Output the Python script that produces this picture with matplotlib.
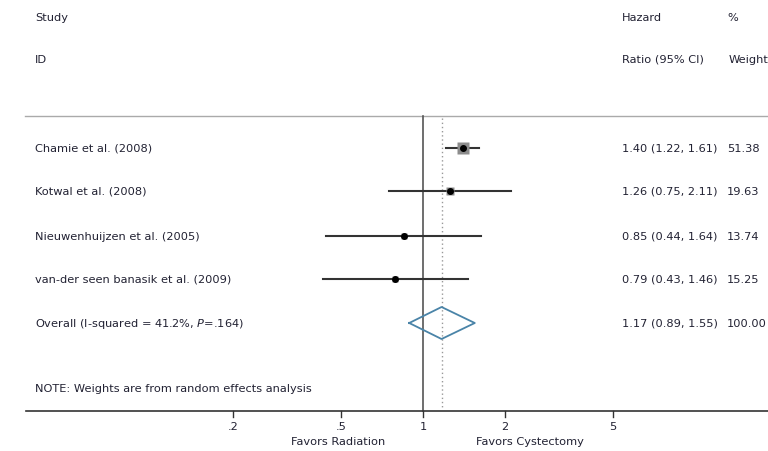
import numpy as np
import matplotlib.pyplot as plt

plt.rcParams['font.family'] = ['DejaVu Sans']

studies = ["Chamie et al. (2008)", "Kotwal et al. (2008)",
           "Nieuwenhuijzen et al. (2005)", "van-der seen banasik et al. (2009)"]
hr = [1.40, 1.26, 0.85, 0.79]
lo = [1.22, 0.75, 0.44, 0.43]
hi = [1.61, 2.11, 1.64, 1.46]
weight = [51.38, 19.63, 13.74, 15.25]

overall_label = "Overall (I-squared = 41.2%, $\\mathit{P}$=.164)"
overall = [1.17, 0.89, 1.55]

ticks = [0.2, 0.5, 1, 2, 5]
tick_labels = [".2", ".5", "1", "2", "5"]

W, H = 768, 452
fig = plt.figure(figsize=(W / 100, H / 100), dpi=100)
ax = fig.add_axes([0, 0, 1, 1])
ax.set_xscale('log')
# 1 sits at x=423 px, 272 px per decade
ax.set_xlim(10 ** (-423 / 272), 10 ** ((W - 423) / 272))
ax.set_ylim(H, 0)
ax.axis('off')

def px(x):
    return 10 ** ((x - 423) / 272)

tc = '#222233'
fs = 8.2
yt = ax.get_yaxis_transform()

# header
ax.text(35 / W, 18, "Study", transform=yt, fontsize=fs, color=tc, va='center')
ax.text(35 / W, 60, "ID", transform=yt, fontsize=fs, color=tc, va='center')
ax.text(622 / W, 18, "Hazard", transform=yt, fontsize=fs, color=tc, va='center')
ax.text(622 / W, 60, "Ratio (95% CI)", transform=yt, fontsize=fs, color=tc, va='center')
ax.text(727 / W, 18, "%", transform=yt, fontsize=fs, color=tc, va='center')
ax.text(729 / W, 60, "Weight", transform=yt, fontsize=fs, color=tc, va='center')
ax.plot([25 / W, 1], [117, 117], transform=yt, color='#aaaaaa', lw=1)

# null line and pooled estimate line
ax.plot([1, 1], [117, 412], color='#555555', lw=1.2)
ax.plot([overall[0]] * 2, [119, 410], color='#999999', lw=1, ls=(0, (1, 2)))

rows = [149, 192, 237, 280]
for i in range(len(studies)):
    y = rows[i]
    ax.plot([lo[i], hi[i]], [y, y], color='#333333', lw=1.5, zorder=3)
    side = 12 * np.sqrt(weight[i] / weight[0])
    ax.plot(hr[i], y, marker='s', ms=side * 0.72, color='#8c8c8c', mec='none', zorder=4)
    ax.plot(hr[i], y, marker='o', ms=4, color='black', zorder=5)
    ax.text(35 / W, y, studies[i], transform=yt, fontsize=fs, color=tc, va='center')
    ax.text(622 / W, y, "%.2f (%.2f, %.2f)" % (hr[i], lo[i], hi[i]),
            transform=yt, fontsize=fs, color=tc, va='center')
    ax.text(727 / W, y, "%.2f" % weight[i], transform=yt, fontsize=fs, color=tc, va='center')

# overall diamond
yo = 324
est, olo, ohi = overall
ax.plot([olo, est, ohi, est, olo], [yo, yo - 16, yo, yo + 16, yo], color='#4a84a8', lw=1.3)
ax.text(35 / W, yo, overall_label, transform=yt, fontsize=fs, color=tc, va='center')
ax.text(622 / W, yo, "%.2f (%.2f, %.2f)" % (est, olo, ohi), transform=yt,
        fontsize=fs, color=tc, va='center')
ax.text(727 / W, yo, "100.00", transform=yt, fontsize=fs, color=tc, va='center')

ax.text(35 / W, 389, "NOTE: Weights are from random effects analysis", transform=yt,
        fontsize=fs, color=tc, va='center')

# x axis
ax.plot([26 / W, 1], [412, 412], transform=yt, color='#333333', lw=1.2)
for t, lab in zip(ticks, tick_labels):
    ax.plot([t, t], [412, 418], color='#333333', lw=1)
    ax.text(t, 427, lab, fontsize=fs, color=tc, ha='center', va='center')
ax.text(px(338), 442, "Favors Radiation", fontsize=fs, color=tc, ha='center', va='center')
ax.text(px(530), 442, "Favors Cystectomy", fontsize=fs, color=tc, ha='center', va='center')

fig.savefig('out.png', dpi=100)
